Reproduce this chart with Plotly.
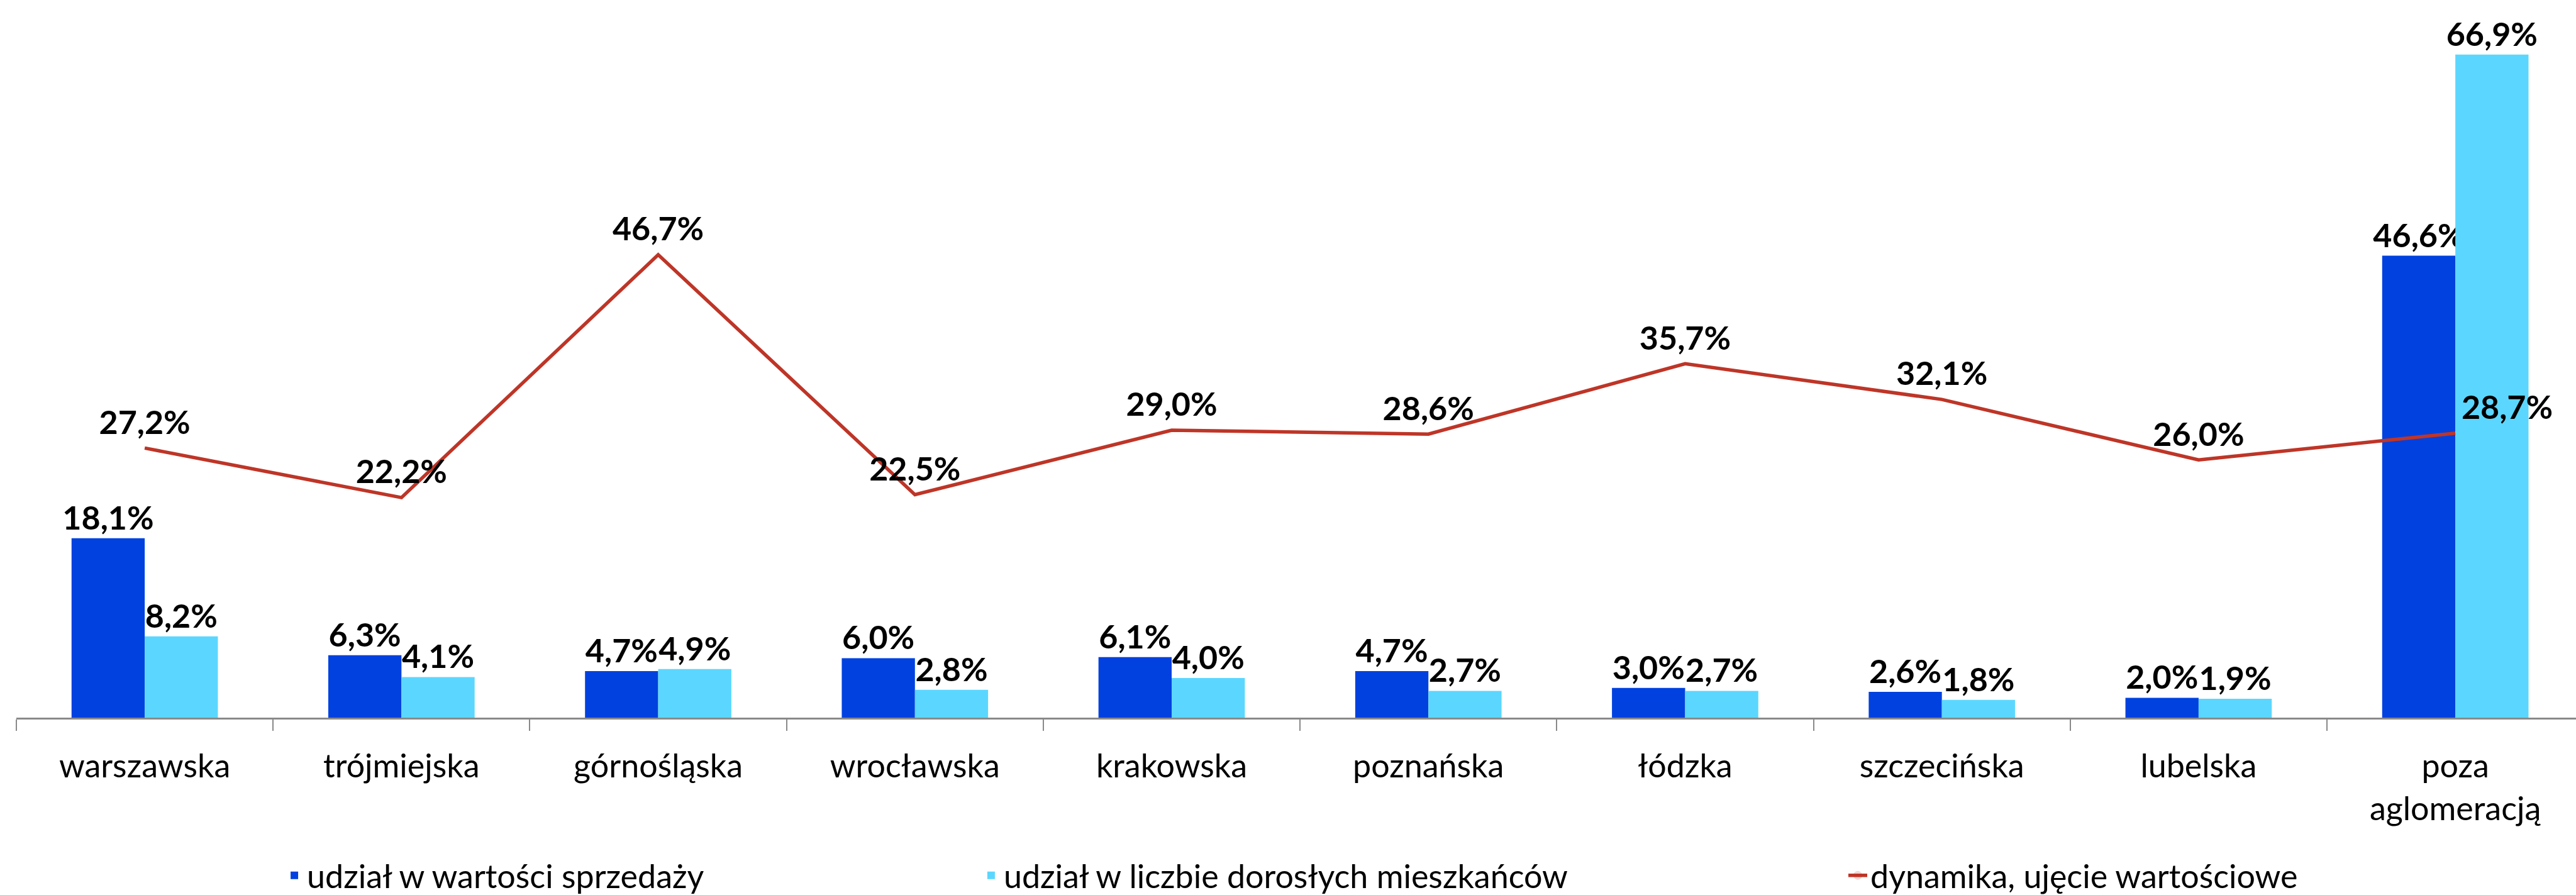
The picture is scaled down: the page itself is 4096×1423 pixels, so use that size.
import plotly.graph_objects as go

# Agglomerations and their shares / dynamics (in %)
categories = ["warszawska", "trójmiejska", "górnośląska", "wrocławska", "krakowska",
              "poznańska", "łódzka", "szczecińska", "lubelska", "poza aglomeracją"]
tick_labels = ["warszawska", "trójmiejska", "górnośląska", "wrocławska", "krakowska",
               "poznańska", "łódzka", "szczecińska", "lubelska", "poza<br>aglomeracją"]
sales_share = [18.1, 6.3, 4.7, 6.0, 6.1, 4.7, 3.0, 2.6, 2.0, 46.6]
adult_share = [8.2, 4.1, 4.9, 2.8, 4.0, 2.7, 2.7, 1.8, 1.9, 66.9]
value_dynamics = [27.2, 22.2, 46.7, 22.5, 29.0, 28.6, 35.7, 32.1, 26.0, 28.7]

series_names = ["udział w wartości sprzedaży",
                "udział w liczbie dorosłych mieszkańców",
                "dynamika, ujęcie wartościowe"]

FONT = "Lato"
BLUE = "#0041DF"
CYAN = "#5BD7FF"
RED = "#BE3527"
LABEL_SIZE = 52

fig = go.Figure()

fig.add_trace(go.Bar(
    x=categories, y=sales_share, name=series_names[0],
    marker=dict(color=BLUE, line=dict(width=0)),
    texttemplate="%{y:.1f}%", textposition="outside", constraintext="none",
    textfont=dict(family=FONT, size=LABEL_SIZE, color="black", weight="bold"),
    cliponaxis=False, legend="legend",
))
fig.add_trace(go.Bar(
    x=categories, y=adult_share, name=series_names[1],
    marker=dict(color=CYAN, line=dict(width=0)),
    texttemplate="%{y:.1f}%", textposition="outside", constraintext="none",
    textfont=dict(family=FONT, size=LABEL_SIZE, color="black", weight="bold"),
    cliponaxis=False, legend="legend2",
))
fig.add_trace(go.Scatter(
    x=categories, y=value_dynamics, name=series_names[2],
    mode="lines+markers+text",
    line=dict(color=RED, width=5.5),
    marker=dict(size=14, opacity=0, color=RED),
    texttemplate="%{y:.1f}%",
    textposition=["top center"] * 9 + ["top right"],
    textfont=dict(family=FONT, size=LABEL_SIZE, color="black", weight="bold"),
    cliponaxis=False, legend="legend3",
))

legend_common = dict(orientation="h", yanchor="middle", xanchor="left", y=-0.22,
                     font=dict(family=FONT, size=LABEL_SIZE, color="black"),
                     bgcolor="rgba(0,0,0,0)")

fig.update_layout(
    width=4096, height=1423,
    margin=dict(l=26, r=0, t=0, b=282, autoexpand=False),
    paper_bgcolor="white", plot_bgcolor="white",
    barmode="group", bargap=0.43, bargroupgap=0,
    separators=", ",
    font=dict(family=FONT, size=LABEL_SIZE, color="black"),
    showlegend=True,
    legend=dict(x=0.1037, **legend_common),
    legend2=dict(x=0.3759, **legend_common),
    legend3=dict(x=0.7145, **legend_common),
    xaxis=dict(
        type="category", categoryorder="array", categoryarray=categories,
        tickmode="array", tickvals=categories, ticktext=tick_labels,
        range=[-0.5, 9.47],
        showline=True, linecolor="#898989", linewidth=2.5,
        ticks="outside", tickson="boundaries", ticklen=18, tickwidth=2, tickcolor="#898989",
        ticklabelstandoff=30,
        tickfont=dict(family=FONT, size=LABEL_SIZE, color="black"),
        showgrid=False, zeroline=False, tickangle=0, automargin=False,
    ),
    yaxis=dict(range=[0, 72.4], visible=False, showgrid=False, zeroline=False),
)

fig.write_html("out.html")
